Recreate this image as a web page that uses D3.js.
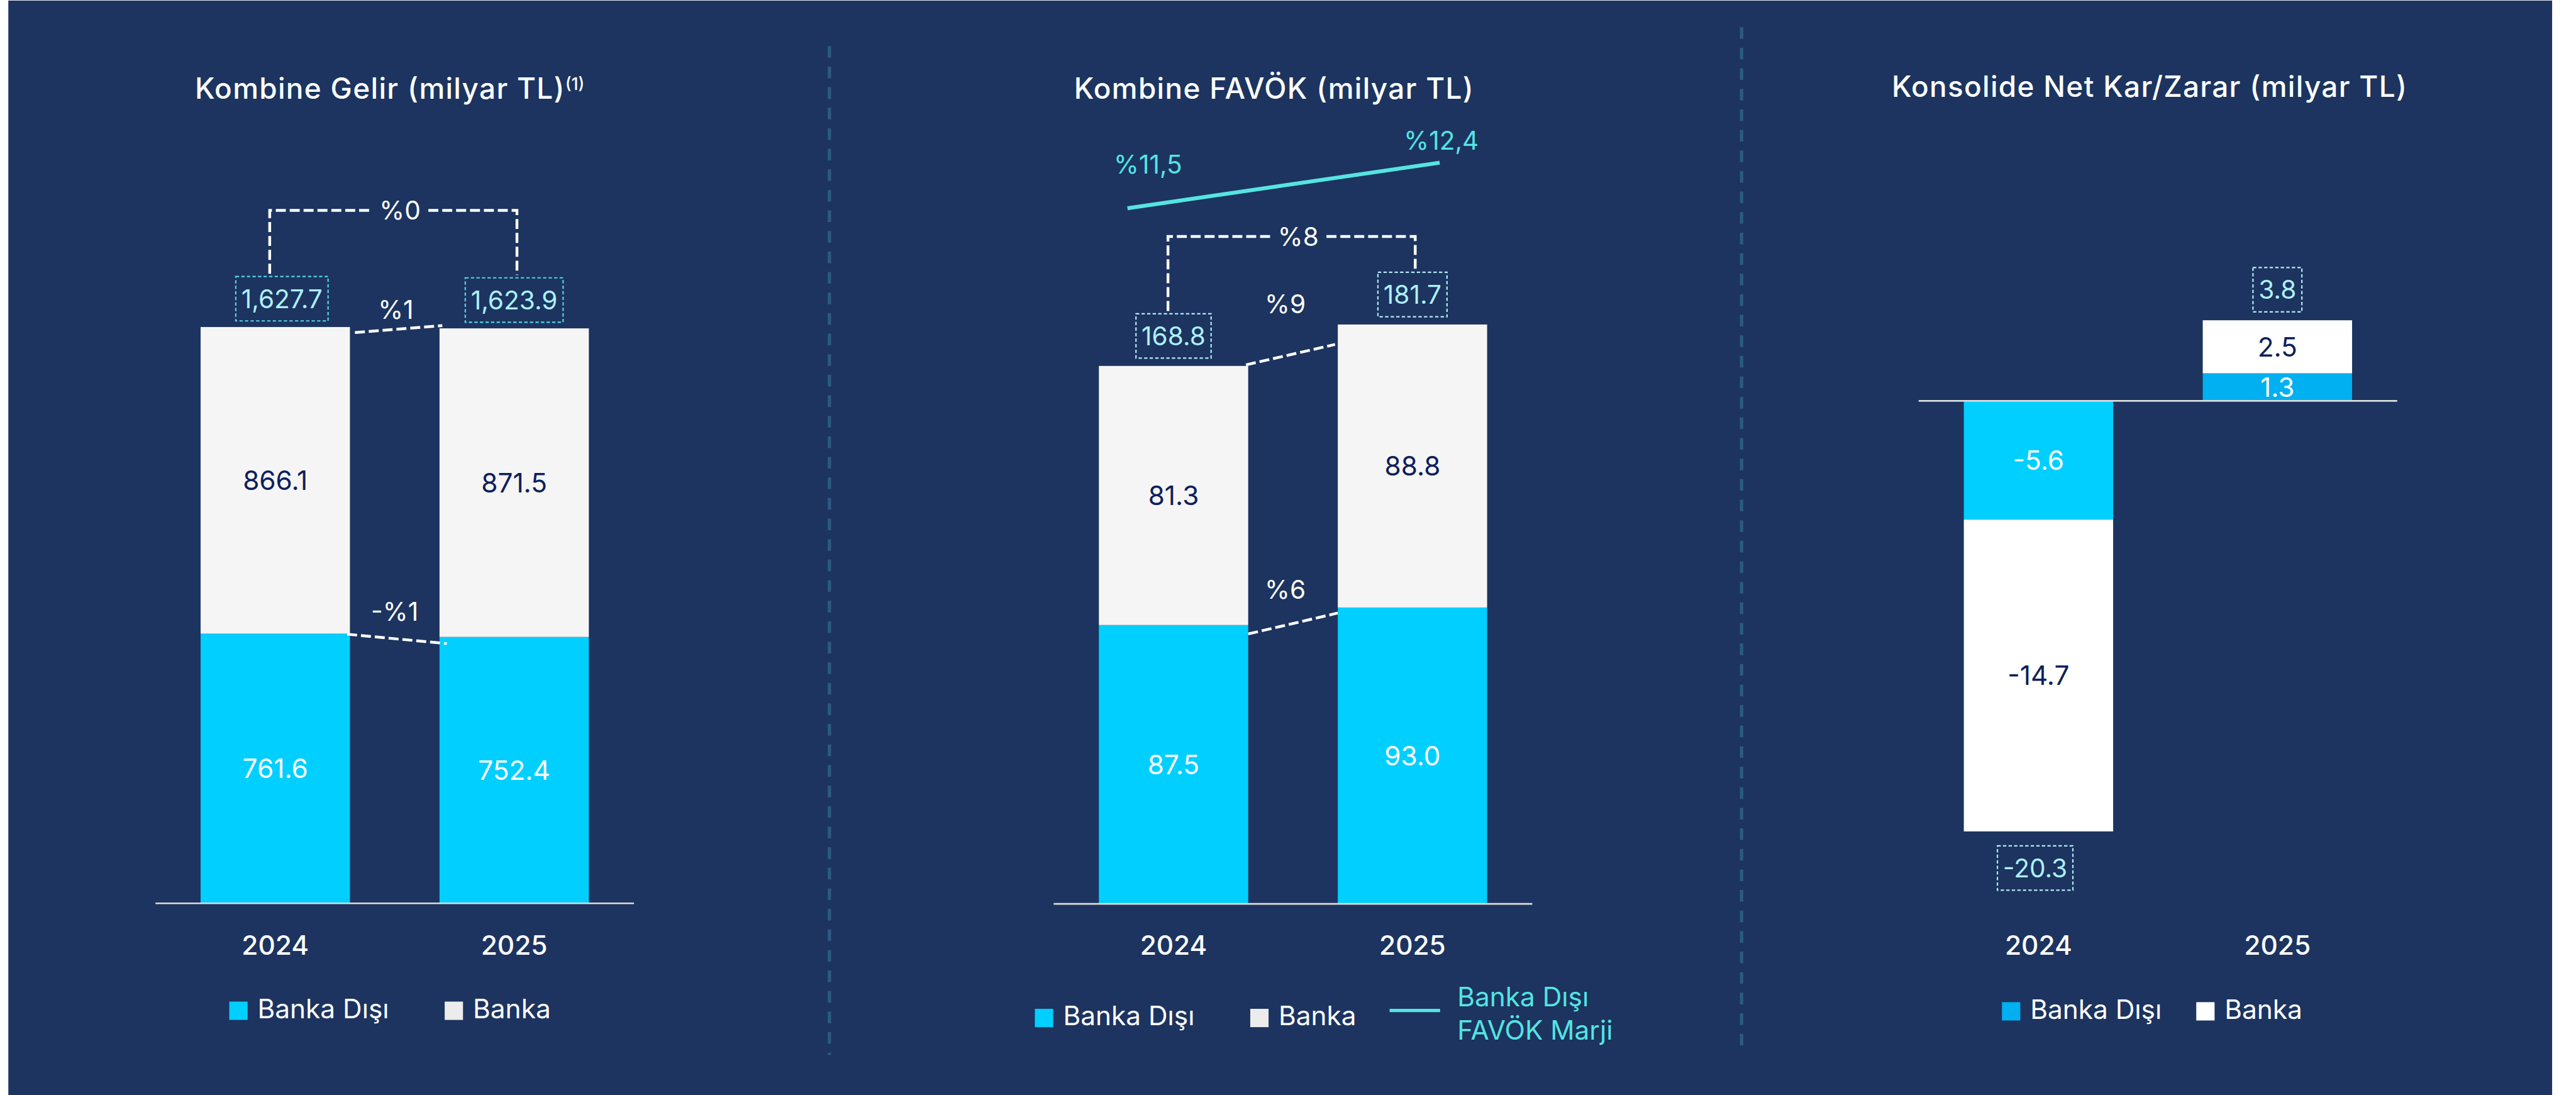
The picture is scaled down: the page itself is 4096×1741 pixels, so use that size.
<!DOCTYPE html>
<html lang="tr">
<head>
<meta charset="utf-8">
<title>Kombine Gelir, FAVÖK ve Net Kar/Zarar</title>
<script src="https://d3js.org/d3.v7.min.js"></script>
<style>
  html, body { margin: 0; padding: 0; background: #fff; }
  svg { display: block; }
  text { font-family: Inter, "Noto Sans", sans-serif; }
</style>
</head>
<body>
<div id="grafik"></div>
<script>
// veriler (milyar TL)
var yillar = ["2024", "2025"];

var gelirBankaDisi = [761.6, 752.4];
var gelirBanka = [866.1, 871.5];
var gelirToplam = [1627.7, 1623.9];
var gelirDegisim = ["%0", "%1", "-%1"];   // toplam, banka, banka dışı

var favokBankaDisi = [87.5, 93.0];
var favokBanka = [81.3, 88.8];
var favokToplam = [168.8, 181.7];
var favokDegisim = ["%8", "%9", "%6"];
var favokMarji = [11.5, 12.4];             // banka dışı FAVÖK marjı, %

var netBankaDisi = [-5.6, 1.3];
var netBanka = [-14.7, 2.5];
var netToplam = [-20.3, 3.8];

var fmt = d3.formatLocale({decimal: ".", thousands: ",", grouping: [3], currency: ["", ""], minus: "-"}).format(",.1f");
function yuzde(v) { return "%" + d3.format(".1f")(v).replace(".", ","); }

var LACIVERT = "#1c345f", MAVI = "#00cfff", KOYU = "#0e1f5b", ACIK = "#aef0fa", TURKUAZ = "#55e4e2";

// resim referans boyutunda (4640x1972) çizilip ölçeklenir
var W = 4640, H = 1972, olcek = 4096 / W;
var svg = d3.select("#grafik").append("svg").attr("width", 4096).attr("height", 1741);
var kok = svg.append("g").attr("transform", "scale(" + olcek + ")");

kok.append("rect").attr("width", W).attr("height", H).attr("fill", "#fff");
kok.append("rect").attr("x", 15).attr("y", 1).attr("width", 4582).attr("height", H).attr("fill", LACIVERT);

// ayırıcı kesikli çizgiler
[[1494, 83, 1900], [3137, 49, 1885]].forEach(function(a) {
  kok.append("line").attr("x1", a[0]).attr("x2", a[0]).attr("y1", a[1]).attr("y2", a[2])
    .attr("stroke", "#2b5b82").attr("stroke-width", 6).attr("stroke-dasharray", "21 16");
});

function kesik(sel) {
  return sel.attr("fill", "none").attr("stroke", "#fff").attr("stroke-width", 5).attr("stroke-dasharray", "18 7");
}

function grafik(o) {
  var g = kok.append("g");

  // başlık
  var b = g.append("text").attr("x", o.baslikX).attr("y", o.baslikY).attr("text-anchor", "middle")
    .attr("fill", "#fff").attr("font-size", 52).attr("font-weight", 500).attr("letter-spacing", 1.5).text(o.baslik);
  if (o.ust) b.append("tspan").attr("font-size", 30).attr("dy", -16).attr("letter-spacing", 0).text(o.ust);

  var x = d3.scaleBand().domain(yillar).range([o.x0, o.x0 + 862]).paddingInner(0.375).paddingOuter(0.189);
  var y = d3.scaleLinear().domain([0, 1]).range([o.sifir, o.sifir - o.k]);
  var bw = x.bandwidth();

  var satirlar = yillar.map(function(yil, i) {
    return {yil: yil, i: i, bankaDisi: o.bankaDisi[i], banka: o.banka[i]};
  });
  var yigin = d3.stack().keys(["bankaDisi", "banka"]).offset(d3.stackOffsetDiverging)(satirlar);

  yigin.forEach(function(seri) {
    var dis = seri.key === "bankaDisi";
    g.append("g").selectAll("rect").data(seri).join("rect")
      .attr("x", function(d) { return x(d.data.yil); })
      .attr("y", function(d) { return y(Math.max(d[0], d[1])); })
      .attr("width", bw)
      .attr("height", function(d) { return Math.abs(y(d[0]) - y(d[1])); })
      .attr("fill", function(d) { return dis ? o.maviler[d.data.i] : o.beyaz; });
    g.append("g").selectAll("text").data(seri).join("text")
      .attr("x", function(d) { return x(d.data.yil) + bw / 2; })
      .attr("y", function(d) { return (y(d[0]) + y(d[1])) / 2; })
      .attr("dy", "0.36em").attr("text-anchor", "middle").attr("font-size", 48)
      .attr("fill", dis ? "#fff" : KOYU)
      .text(function(d) { return fmt(d.data[seri.key]); });
  });

  // sıfır çizgisi
  g.append("line").attr("x1", o.x0).attr("x2", o.x0 + 862).attr("y1", y(0)).attr("y2", y(0))
    .attr("stroke", "#dcdcdc").attr("stroke-width", 3);

  // yıllar
  var eksen = g.append("g").attr("transform", "translate(0,1685)")
    .call(d3.axisBottom(x).tickSize(0).tickPadding(0));
  eksen.select(".domain").remove();
  eksen.selectAll("text").attr("fill", "#fff").attr("font-size", 48).attr("font-weight", 500)
    .attr("font-family", 'Inter, "Noto Sans", sans-serif');

  // toplam kutuları
  var kutular = yillar.map(function(yil, i) {
    var ust = y(d3.max(yigin, function(s) { return s[i][1]; }));
    var alt = y(d3.min(yigin, function(s) { return s[i][0]; }));
    var cx = x(yil) + bw / 2 + o.kutuKaydir[i];
    var cy = o.toplam[i] >= 0 ? ust - o.kutuBosluk - 40 : alt + 26 + 40;
    var t = g.append("text").attr("x", cx).attr("y", cy).attr("dy", "0.36em").attr("text-anchor", "middle")
      .attr("font-size", 46).attr("fill", ACIK).text(fmt(o.toplam[i]));
    var w = t.node().getComputedTextLength() + 20;
    g.insert("rect", "text").attr("x", cx - w / 2).attr("y", cy - 40).attr("width", w).attr("height", 80)
      .attr("fill", "none").attr("stroke", o.kutuRenk).attr("stroke-width", 2.5).attr("stroke-dasharray", "6 4");
    return {cx: cx, ust: cy - 40, barUst: ust, barSol: x(yil), barSag: x(yil) + bw,
            maviUst: y(o.bankaDisi[i])};
  });

  // toplam değişim parantezi
  if (o.parantez) {
    var p = o.parantez, sx = kutular[0].cx - 10 - o.kutuKaydir[0], rx = kutular[1].cx + 5;
    var lx = (sx + rx) / 2 + 12;
    var et = g.append("text").attr("x", lx).attr("y", p.seviye).attr("dy", "0.36em").attr("text-anchor", "middle")
      .attr("font-size", 46).attr("fill", "#fff").text(p.etiket);
    var yar = et.node().getComputedTextLength() / 2 + 14;
    kesik(g.append("path")).attr("d", "M" + sx + "," + (kutular[0].ust - 5) + "V" + p.seviye + "H" + (lx - yar));
    kesik(g.append("path")).attr("d", "M" + (lx + yar) + "," + p.seviye + "H" + rx + "V" + (kutular[1].ust - 5));
  }

  // çubuklar arası bağlantılar
  (o.baglar || []).forEach(function(bg) {
    var a = kutular[0], c = kutular[1];
    var y0 = bg.tur === "ust" ? a.barUst : a.maviUst, y1 = bg.tur === "ust" ? c.barUst : c.maviUst;
    kesik(g.append("line")).attr("x1", a.barSag + bg.o[0]).attr("y1", y0 + bg.o[1])
      .attr("x2", c.barSol + bg.o[2]).attr("y2", y1 + bg.o[3]);
    g.append("text").attr("x", (a.barSag + c.barSol) / 2 + bg.l[0]).attr("y", y0 + bg.l[1]).attr("dy", "0.36em")
      .attr("text-anchor", "middle").attr("font-size", 46).attr("fill", "#fff").text(bg.etiket);
  });

  // marj çizgisi
  if (o.marj) {
    var xm = d3.scalePoint().domain(yillar).range([x(yillar[0]) + bw / 2 - 83, x(yillar[1]) + bw / 2 + 49]);
    var ym = d3.scaleLinear().domain([10, 14]).range([512, 147]);
    g.append("path").datum(o.marj)
      .attr("d", d3.line().x(function(d, i) { return xm(yillar[i]); }).y(function(d) { return ym(d); }))
      .attr("fill", "none").attr("stroke", TURKUAZ).attr("stroke-width", 7);
    var kay = [[37, -63], [3, -23]];
    g.append("g").selectAll("text").data(o.marj).join("text")
      .attr("x", function(d, i) { return xm(yillar[i]) + kay[i][0]; })
      .attr("y", function(d, i) { return ym(d) + kay[i][1]; })
      .attr("text-anchor", "middle").attr("font-size", 46).attr("fill", TURKUAZ)
      .text(yuzde);
  }

  // lejant
  o.lejant.forEach(function(l) {
    if (l.tur === "kare") {
      g.append("rect").attr("x", l.x).attr("y", l.y - 30).attr("width", 33).attr("height", 33).attr("fill", l.renk);
      g.append("text").attr("x", l.x + 51).attr("y", l.y).attr("font-size", 48).attr("fill", "#fff").text(l.metin);
    } else {
      g.append("line").attr("x1", l.x).attr("x2", l.x + 91).attr("y1", l.y - 27).attr("y2", l.y - 27)
        .attr("stroke", l.renk).attr("stroke-width", 6);
      l.metin.forEach(function(m, j) {
        g.append("text").attr("x", l.x + 122).attr("y", l.y - 34 + j * 59).attr("font-size", 48)
          .attr("fill", l.renk).text(m);
      });
    }
  });
}

grafik({
  baslik: "Kombine Gelir (milyar TL)", ust: "(1)", baslikX: 702, baslikY: 178,
  x0: 280, sifir: 1627, k: 0.6377,
  bankaDisi: gelirBankaDisi, banka: gelirBanka, toplam: gelirToplam,
  maviler: [MAVI, MAVI], beyaz: "#f5f5f5", kutuRenk: "#57d3e3", kutuBosluk: 11, kutuKaydir: [12, 0],
  parantez: {seviye: 379, etiket: gelirDegisim[0]},
  baglar: [{tur: "ust", etiket: gelirDegisim[1], o: [9, 10, 5, -5], l: [2, -31]},
           {tur: "alt", etiket: gelirDegisim[2], o: [-5, 1, 13, 12], l: [0, -40]}],
  lejant: [{tur: "kare", x: 413, y: 1834, renk: MAVI, metin: "Banka Dışı"},
           {tur: "kare", x: 801, y: 1834, renk: "#ececec", metin: "Banka"}]
});

grafik({
  baslik: "Kombine FAVÖK (milyar TL)", baslikX: 2295, baslikY: 178,
  x0: 1898, sifir: 1628, k: 5.74,
  bankaDisi: favokBankaDisi, banka: favokBanka, toplam: favokToplam,
  maviler: [MAVI, MAVI], beyaz: "#f5f5f5", kutuRenk: "#b4e9f5", kutuBosluk: 14, kutuKaydir: [0, 0],
  parantez: {seviye: 426, etiket: favokDegisim[0]},
  baglar: [{tur: "ust", etiket: favokDegisim[1], o: [-4, -2, -5, 36], l: [-14, -112]},
           {tur: "alt", etiket: favokDegisim[2], o: [0, 16, 0, 10], l: [-14, -64]}],
  marj: favokMarji,
  lejant: [{tur: "kare", x: 1864, y: 1847, renk: MAVI, metin: "Banka Dışı"},
           {tur: "kare", x: 2252, y: 1847, renk: "#ececec", metin: "Banka"},
           {tur: "cizgi", x: 2503, y: 1847, renk: TURKUAZ, metin: ["Banka Dışı", "FAVÖK Marji"]}]
});

grafik({
  baslik: "Konsolide Net Kar/Zarar (milyar TL)", baslikX: 3872, baslikY: 174,
  x0: 3456, sifir: 722, k: 38.2,
  bankaDisi: netBankaDisi, banka: netBanka, toplam: netToplam,
  maviler: [MAVI, "#00b0f0"], beyaz: "#ffffff", kutuRenk: "#b4e9f5", kutuBosluk: 15, kutuKaydir: [-6, 0],
  lejant: [{tur: "kare", x: 3606, y: 1835, renk: "#00b0f0", metin: "Banka Dışı"},
           {tur: "kare", x: 3956, y: 1835, renk: "#ffffff", metin: "Banka"}]
});
</script>
</body>
</html>
